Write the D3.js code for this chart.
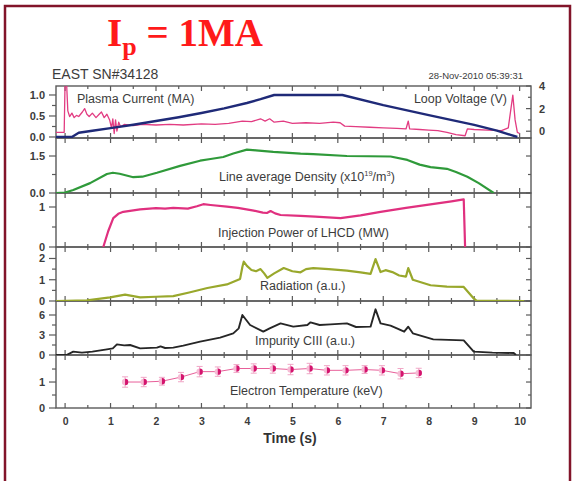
<!DOCTYPE html>
<html>
<head>
<meta charset="utf-8">
<script src="https://cdn.jsdelivr.net/npm/d3@7/dist/d3.min.js"></script>
<style>
  html, body { margin: 0; padding: 0; background: #fff; }
  svg { display: block; }
</style>
</head>
<body>
<svg id="chart" width="573" height="481"></svg>
<script>
// ---- Shot #34128 diagnostics (time in seconds) ----
const timeTicks = [0, 1, 2, 3, 4, 5, 6, 7, 8, 9, 10];

// Plasma current (MA)
const ipTime  = [-0.2, 0.15, 0.3, 0.6, 1.0, 1.5, 2.0, 2.5, 3.0, 3.5, 4.0, 4.3, 4.6, 6.1, 7.0, 8.0, 9.0, 9.5, 9.8, 9.95];
const ipValue = [0, 0, 0.1, 0.15, 0.21, 0.29, 0.38, 0.47, 0.57, 0.68, 0.81, 0.9, 1.0, 1.0, 0.76, 0.52, 0.29, 0.15, 0.05, 0];

// Loop voltage (V)
const vlTime  = [-0.2, -0.02, 0.0, 0.03, 0.06, 0.1, 0.15, 0.2, 0.25, 0.3, 0.38, 0.43, 0.48, 0.53, 0.6, 0.68, 0.75, 0.8, 0.86, 0.92, 0.98, 1.02, 1.05, 1.08, 1.11, 1.14, 1.18, 1.22, 1.3, 1.5, 1.7, 2.0, 2.3, 2.6, 3.0, 3.3, 3.6, 3.9, 4.1, 4.3, 4.4, 4.5, 4.6, 4.8, 5.0, 5.3, 5.6, 5.9, 6.05, 6.15, 6.4, 6.7, 7.0, 7.3, 7.5, 7.55, 7.58, 7.8, 8.0, 8.2, 8.4, 8.6, 8.8, 8.85, 9.0, 9.3, 9.6, 9.75, 9.85, 9.9, 9.95, 10.0];
const vlValue = [-0.1, -0.1, 4.5, 4.5, 1.8, 1.3, 1.6, 1.2, 1.4, 1.3, 1.7, 2.0, 1.5, 1.3, 1.6, 1.2, 1.5, 1.7, 1.2, 1.5, 1.0, 0.3, 1.1, -0.2, 1.0, 0.0, 0.8, 0.4, 0.6, 0.5, 0.6, 0.55, 0.6, 0.55, 0.65, 0.6, 0.7, 0.9, 0.85, 1.1, 0.9, 1.1, 0.8, 0.9, 0.7, 0.75, 0.7, 0.8, 0.75, 0.45, 0.4, 0.35, 0.3, 0.25, 0.2, 0.9, 0.2, 0.15, 0.1, 0.05, -0.1, -0.3, -0.4, 0.2, 0.15, 0.1, 0.05, 0.3, 3.2, 1.0, -0.1, -0.2];

// Line average density (1e19 m^-3)
const neTime  = [-0.2, 0, 0.18, 0.55, 0.92, 1.05, 1.2, 1.5, 1.7, 2.02, 2.53, 2.97, 3.2, 3.48, 3.7, 4.0, 4.2, 4.58, 5.18, 5.46, 6.2, 7.16, 7.53, 7.8, 8.04, 8.4, 8.6, 8.85, 9.1, 9.43];
const neValue = [0, 0.02, 0.12, 0.4, 0.77, 0.82, 0.78, 0.64, 0.66, 0.82, 1.1, 1.31, 1.38, 1.46, 1.6, 1.76, 1.73, 1.67, 1.6, 1.58, 1.5, 1.48, 1.34, 1.15, 1.05, 0.98, 0.85, 0.66, 0.4, 0];

// Injection power of LHCD (MW)
const lhTime  = [0.84, 0.95, 1.06, 1.17, 1.28, 1.65, 2.0, 2.2, 2.38, 2.7, 2.9, 3.04, 3.2, 3.56, 3.8, 4.15, 4.35, 4.44, 4.52, 4.62, 4.74, 5.18, 5.5, 6.06, 6.5, 6.94, 7.5, 8.0, 8.5, 8.77, 8.8];
const lhValue = [0, 0.4, 0.72, 0.83, 0.88, 0.94, 0.97, 0.96, 0.98, 0.96, 1.02, 1.07, 1.05, 1.01, 0.98, 0.91, 0.86, 0.85, 0.9, 0.84, 0.8, 0.78, 0.76, 0.72, 0.79, 0.88, 0.98, 1.06, 1.14, 1.19, 0];

// Radiation (a.u.)
const radTime  = [-0.2, 0.48, 0.99, 1.32, 1.65, 2.0, 2.38, 2.73, 3.13, 3.56, 3.85, 3.9, 3.93, 4.0, 4.1, 4.2, 4.3, 4.38, 4.45, 4.6, 4.81, 5.0, 5.18, 5.3, 5.46, 5.8, 6.2, 6.5, 6.72, 6.83, 6.94, 7.05, 7.2, 7.35, 7.5, 7.55, 7.65, 8.04, 8.4, 8.77, 8.99, 9.05, 10.1];
const radValue = [0, 0.03, 0.17, 0.3, 0.17, 0.2, 0.23, 0.4, 0.61, 0.78, 1.04, 1.6, 1.85, 1.65, 1.46, 1.4, 1.5, 1.3, 1.09, 1.3, 1.55, 1.4, 1.35, 1.5, 1.55, 1.5, 1.43, 1.35, 1.28, 1.97, 1.36, 1.45, 1.36, 1.2, 1.15, 1.55, 1.0, 0.74, 0.68, 0.66, 0.12, 0.02, 0];

// Impurity CIII (a.u.)
const ciiiTime  = [-0.2, 0.03, 0.18, 0.37, 0.6, 0.92, 1.05, 1.14, 1.3, 1.43, 1.65, 2.02, 2.1, 2.2, 2.38, 2.6, 2.97, 3.41, 3.7, 3.82, 3.9, 4.07, 4.36, 4.5, 4.74, 5.02, 5.33, 5.4, 5.6, 5.84, 6.2, 6.4, 6.72, 6.83, 6.94, 7.16, 7.3, 7.46, 7.55, 7.65, 8.1, 8.77, 8.99, 9.4, 9.87, 9.92];
const ciiiValue = [0, 0, 0.5, 0.35, 0.5, 0.85, 1.0, 1.6, 1.45, 1.5, 1.0, 1.1, 1.3, 1.05, 1.1, 1.4, 2.0, 2.6, 3.25, 4.0, 6.0, 4.5, 3.5, 4.0, 4.75, 4.25, 4.5, 4.9, 4.5, 4.6, 4.75, 4.2, 4.25, 6.85, 4.75, 4.4, 4.0, 3.5, 4.25, 3.25, 2.35, 2.2, 0.5, 0.35, 0.3, 0];

// Electron temperature (keV) with error bars
const teTime  = [1.32, 1.73, 2.13, 2.55, 2.96, 3.36, 3.77, 4.15, 4.57, 4.96, 5.38, 5.76, 6.17, 6.59, 6.97, 7.38, 7.78];
const teValue = [1.0, 1.0, 1.03, 1.19, 1.4, 1.4, 1.52, 1.52, 1.52, 1.48, 1.52, 1.45, 1.45, 1.48, 1.45, 1.32, 1.35];
const teError = [0.2, 0.18, 0.15, 0.18, 0.2, 0.18, 0.15, 0.18, 0.18, 0.2, 0.2, 0.18, 0.18, 0.15, 0.18, 0.2, 0.18];

// ---- layout ----
const svg = d3.select("#chart");
const SANS = "'Liberation Sans', Arial, sans-serif";
const axisColor = "#5a5a5a";
const textColor = "#3c3c3c";
const plotLeft = 56, plotRight = 531;

const x = d3.scaleLinear().domain([-0.2, 10.25]).range([plotLeft, plotRight]);

// Panels: vertical extent, y domain, tick values, labelled ticks
const panels = [
  { top: 86,  bottom: 138, domain: [-0.024, 1.214], ticks: [0, 0.25, 0.5, 0.75, 1.0], labels: [0, 0.5, 1.0], fmt: d3.format(".1f") },
  { top: 138, bottom: 193, domain: [0, 2.23],  ticks: [0, 0.75, 1.5], labels: [0, 1.5], fmt: d3.format(".1f") },
  { top: 193, bottom: 247, domain: [0, 1.35],  ticks: [0, 0.5, 1], labels: [0, 1], fmt: d3.format("d") },
  { top: 247, bottom: 301, domain: [0, 2.54],  ticks: [0, 0.5, 1, 1.5, 2], labels: [0, 1, 2], fmt: d3.format("d") },
  { top: 301, bottom: 355, domain: [0, 8.1],   ticks: [0, 1.5, 3, 4.5, 6], labels: [0, 3, 6], fmt: d3.format("d") },
  { top: 355, bottom: 408, domain: [0, 2.04],  ticks: [0, 0.5, 1, 1.5], labels: [0, 1], fmt: d3.format("d") }
];
panels.forEach(p => { p.y = d3.scaleLinear().domain(p.domain).range([p.bottom, p.top]); });

// right-hand axis of the top panel: loop voltage
const vlTicks = [0, 1, 2, 3, 4];
const vlLabels = [0, 2, 4];
const yV = d3.scaleLinear().domain([-0.6, 4.0]).range([panels[0].bottom, panels[0].top]);

// clip paths for each panel
const defs = svg.append("defs");
panels.forEach((p, i) => {
  defs.append("clipPath").attr("id", "clip" + i)
    .append("rect").attr("x", plotLeft).attr("y", p.top)
    .attr("width", plotRight - plotLeft).attr("height", p.bottom - p.top);
});

// outer frame
svg.append("path")
  .attr("d", `M5,481 L5,6 L570,6 L570,481`)
  .attr("fill", "none").attr("stroke", "#82142a").attr("stroke-width", 2.5);

// title: I_p = 1MA
const title = svg.append("text")
  .attr("x", 107).attr("y", 46)
  .attr("font-family", "'Liberation Serif', 'Times New Roman', serif")
  .attr("font-weight", "bold").attr("font-size", 39).attr("fill", "#ff1a1a");
title.append("tspan").text("I");
title.append("tspan").attr("font-size", 26).attr("dy", 9).text("p");
title.append("tspan").attr("dy", -9).text(" = 1MA");

svg.append("text").attr("x", 52).attr("y", 79)
  .attr("font-family", SANS).attr("font-size", 14).attr("fill", textColor)
  .text("EAST SN#34128");
svg.append("text").attr("x", 523).attr("y", 79).attr("text-anchor", "end")
  .attr("font-family", SANS).attr("font-size", 9.5).attr("fill", textColor)
  .text("28-Nov-2010 05:39:31");

// ---- panels: frames and ticks ----
const minorX = d3.range(0, 10.01, 0.5).filter(v => !Number.isInteger(v));
panels.forEach((p, i) => {
  const g = svg.append("g");
  g.append("rect").attr("x", plotLeft).attr("y", p.top)
    .attr("width", plotRight - plotLeft).attr("height", p.bottom - p.top)
    .attr("fill", "none").attr("stroke", axisColor).attr("stroke-width", 1.4);

  // inward time ticks on top and bottom edges
  const xt = g.append("g").attr("stroke", axisColor).attr("stroke-width", 1.2);
  timeTicks.forEach(t => {
    xt.append("line").attr("x1", x(t)).attr("x2", x(t)).attr("y1", p.bottom).attr("y2", p.bottom - 5);
    xt.append("line").attr("x1", x(t)).attr("x2", x(t)).attr("y1", p.top).attr("y2", p.top + 5);
  });
  minorX.forEach(t => {
    xt.append("line").attr("x1", x(t)).attr("x2", x(t)).attr("y1", p.bottom).attr("y2", p.bottom - 3);
    xt.append("line").attr("x1", x(t)).attr("x2", x(t)).attr("y1", p.top).attr("y2", p.top + 3);
  });

  // left axis ticks point outward, right-side mirrors point inward
  p.ticks.forEach(v => {
    const major = p.labels.includes(v);
    g.append("line").attr("x1", plotLeft).attr("x2", plotLeft - (major ? 7 : 4))
      .attr("y1", p.y(v)).attr("y2", p.y(v)).attr("stroke", axisColor).attr("stroke-width", 1.2);
    if (i !== 0) {
      g.append("line").attr("x1", plotRight).attr("x2", plotRight - (major ? 5 : 3))
        .attr("y1", p.y(v)).attr("y2", p.y(v)).attr("stroke", axisColor).attr("stroke-width", 1.2);
    }
  });
  g.selectAll("text.ylab").data(p.labels).join("text")
    .attr("class", "ylab")
    .attr("x", plotLeft - 11).attr("y", d => p.y(d) + 4)
    .attr("text-anchor", "end").attr("font-family", SANS).attr("font-weight", "bold")
    .attr("font-size", 11).attr("fill", textColor)
    .text(d => p.fmt(d));
});

// right axis of the top panel (loop voltage)
vlTicks.forEach(v => {
  const major = vlLabels.includes(v);
  svg.append("line").attr("x1", plotRight).attr("x2", plotRight - (major ? 5 : 3))
    .attr("y1", yV(v)).attr("y2", yV(v)).attr("stroke", axisColor).attr("stroke-width", 1.2);
});
svg.selectAll("text.vlab").data(vlLabels).join("text")
  .attr("class", "vlab")
  .attr("x", 539).attr("y", d => yV(d) + 4)
  .attr("font-family", SANS).attr("font-weight", "bold").attr("font-size", 11).attr("fill", textColor)
  .text(d => d);

// time axis labels
const xAxis = d3.axisBottom(x).tickValues(timeTicks).tickSize(0).tickPadding(10).tickFormat(d3.format("d"));
const xg = svg.append("g").attr("transform", `translate(0,${panels[5].bottom})`).call(xAxis);
xg.select(".domain").remove();
xg.selectAll("text").attr("font-family", SANS).attr("font-weight", "bold")
  .attr("font-size", 10.5).attr("fill", textColor);
svg.append("text").attr("x", 290).attr("y", 443).attr("text-anchor", "middle")
  .attr("font-family", SANS).attr("font-weight", "bold").attr("font-size", 14).attr("fill", "#333")
  .text("Time (s)");

// ---- series ----
function drawSeries(idx, times, values, yScale, color, width) {
  const pts = times.map((t, k) => [t, values[k]]);
  const line = d3.line().x(d => x(d[0])).y(d => yScale(d[1]));
  svg.append("path").datum(pts)
    .attr("clip-path", `url(#clip${idx})`)
    .attr("d", line).attr("fill", "none")
    .attr("stroke", color).attr("stroke-width", width)
    .attr("stroke-linejoin", "round");
}

drawSeries(0, vlTime, vlValue, yV, "#e23c82", 1.3);
drawSeries(0, ipTime, ipValue, panels[0].y, "#1f2a78", 2.4);
drawSeries(1, neTime, neValue, panels[1].y, "#2f9a3a", 2.2);
drawSeries(2, lhTime, lhValue, panels[2].y, "#e0307f", 2.2);
drawSeries(3, radTime, radValue, panels[3].y, "#99a82c", 2.2);
drawSeries(4, ciiiTime, ciiiValue, panels[4].y, "#262626", 1.9);

// electron temperature: connected points with error bars
const pT = panels[5];
const teData = teTime.map((t, k) => ({ t, v: teValue[k], e: teError[k] }));
svg.append("path").datum(teData)
  .attr("d", d3.line().x(d => x(d.t)).y(d => pT.y(d.v)))
  .attr("fill", "none").attr("stroke", "#e8609a").attr("stroke-width", 1);
const te = svg.append("g").selectAll("g").data(teData).join("g")
  .attr("transform", d => `translate(${x(d.t)},${pT.y(d.v)})`);
te.append("path")
  .attr("d", d => {
    const h = pT.y(0) - pT.y(d.e);
    return `M-3,${-h} H3 M0,${-h} V${h} M-3,${h} H3`;
  })
  .attr("stroke", "#f0a6c6").attr("stroke-width", 1).attr("fill", "none");
te.append("circle").attr("r", 3.2).attr("fill", "#f6bcd5");
te.append("path").attr("d", "M0,-3.2 A3.2,3.2 0 0 1 0,3.2 Z").attr("fill", "#d4146e");

// ---- panel captions ----
const captions = [
  { x: 77,  y: 103, text: "Plasma Current (MA)" },
  { x: 507, y: 103, text: "Loop Voltage (V)", anchor: "end" },
  { x: 219, y: 181, text: "Line average Density (x10", sup: "19", tail: "/m", sup2: "3", end: ")" },
  { x: 218, y: 237, text: "Injection Power of LHCD (MW)" },
  { x: 260, y: 290, text: "Radiation (a.u.)" },
  { x: 255, y: 345, text: "Impurity CIII (a.u.)" },
  { x: 230, y: 395, text: "Electron Temperature (keV)" }
];
captions.forEach(c => {
  const t = svg.append("text").attr("x", c.x).attr("y", c.y)
    .attr("text-anchor", c.anchor || "start")
    .attr("font-family", SANS).attr("font-size", 12.5).attr("fill", textColor);
  t.append("tspan").text(c.text);
  if (c.sup) {
    t.append("tspan").attr("font-size", 7.5).attr("dy", -5).text(c.sup);
    t.append("tspan").attr("dy", 5).text(c.tail);
    t.append("tspan").attr("font-size", 7.5).attr("dy", -5).text(c.sup2);
    t.append("tspan").attr("dy", 5).text(c.end);
  }
});
</script>
</body>
</html>
